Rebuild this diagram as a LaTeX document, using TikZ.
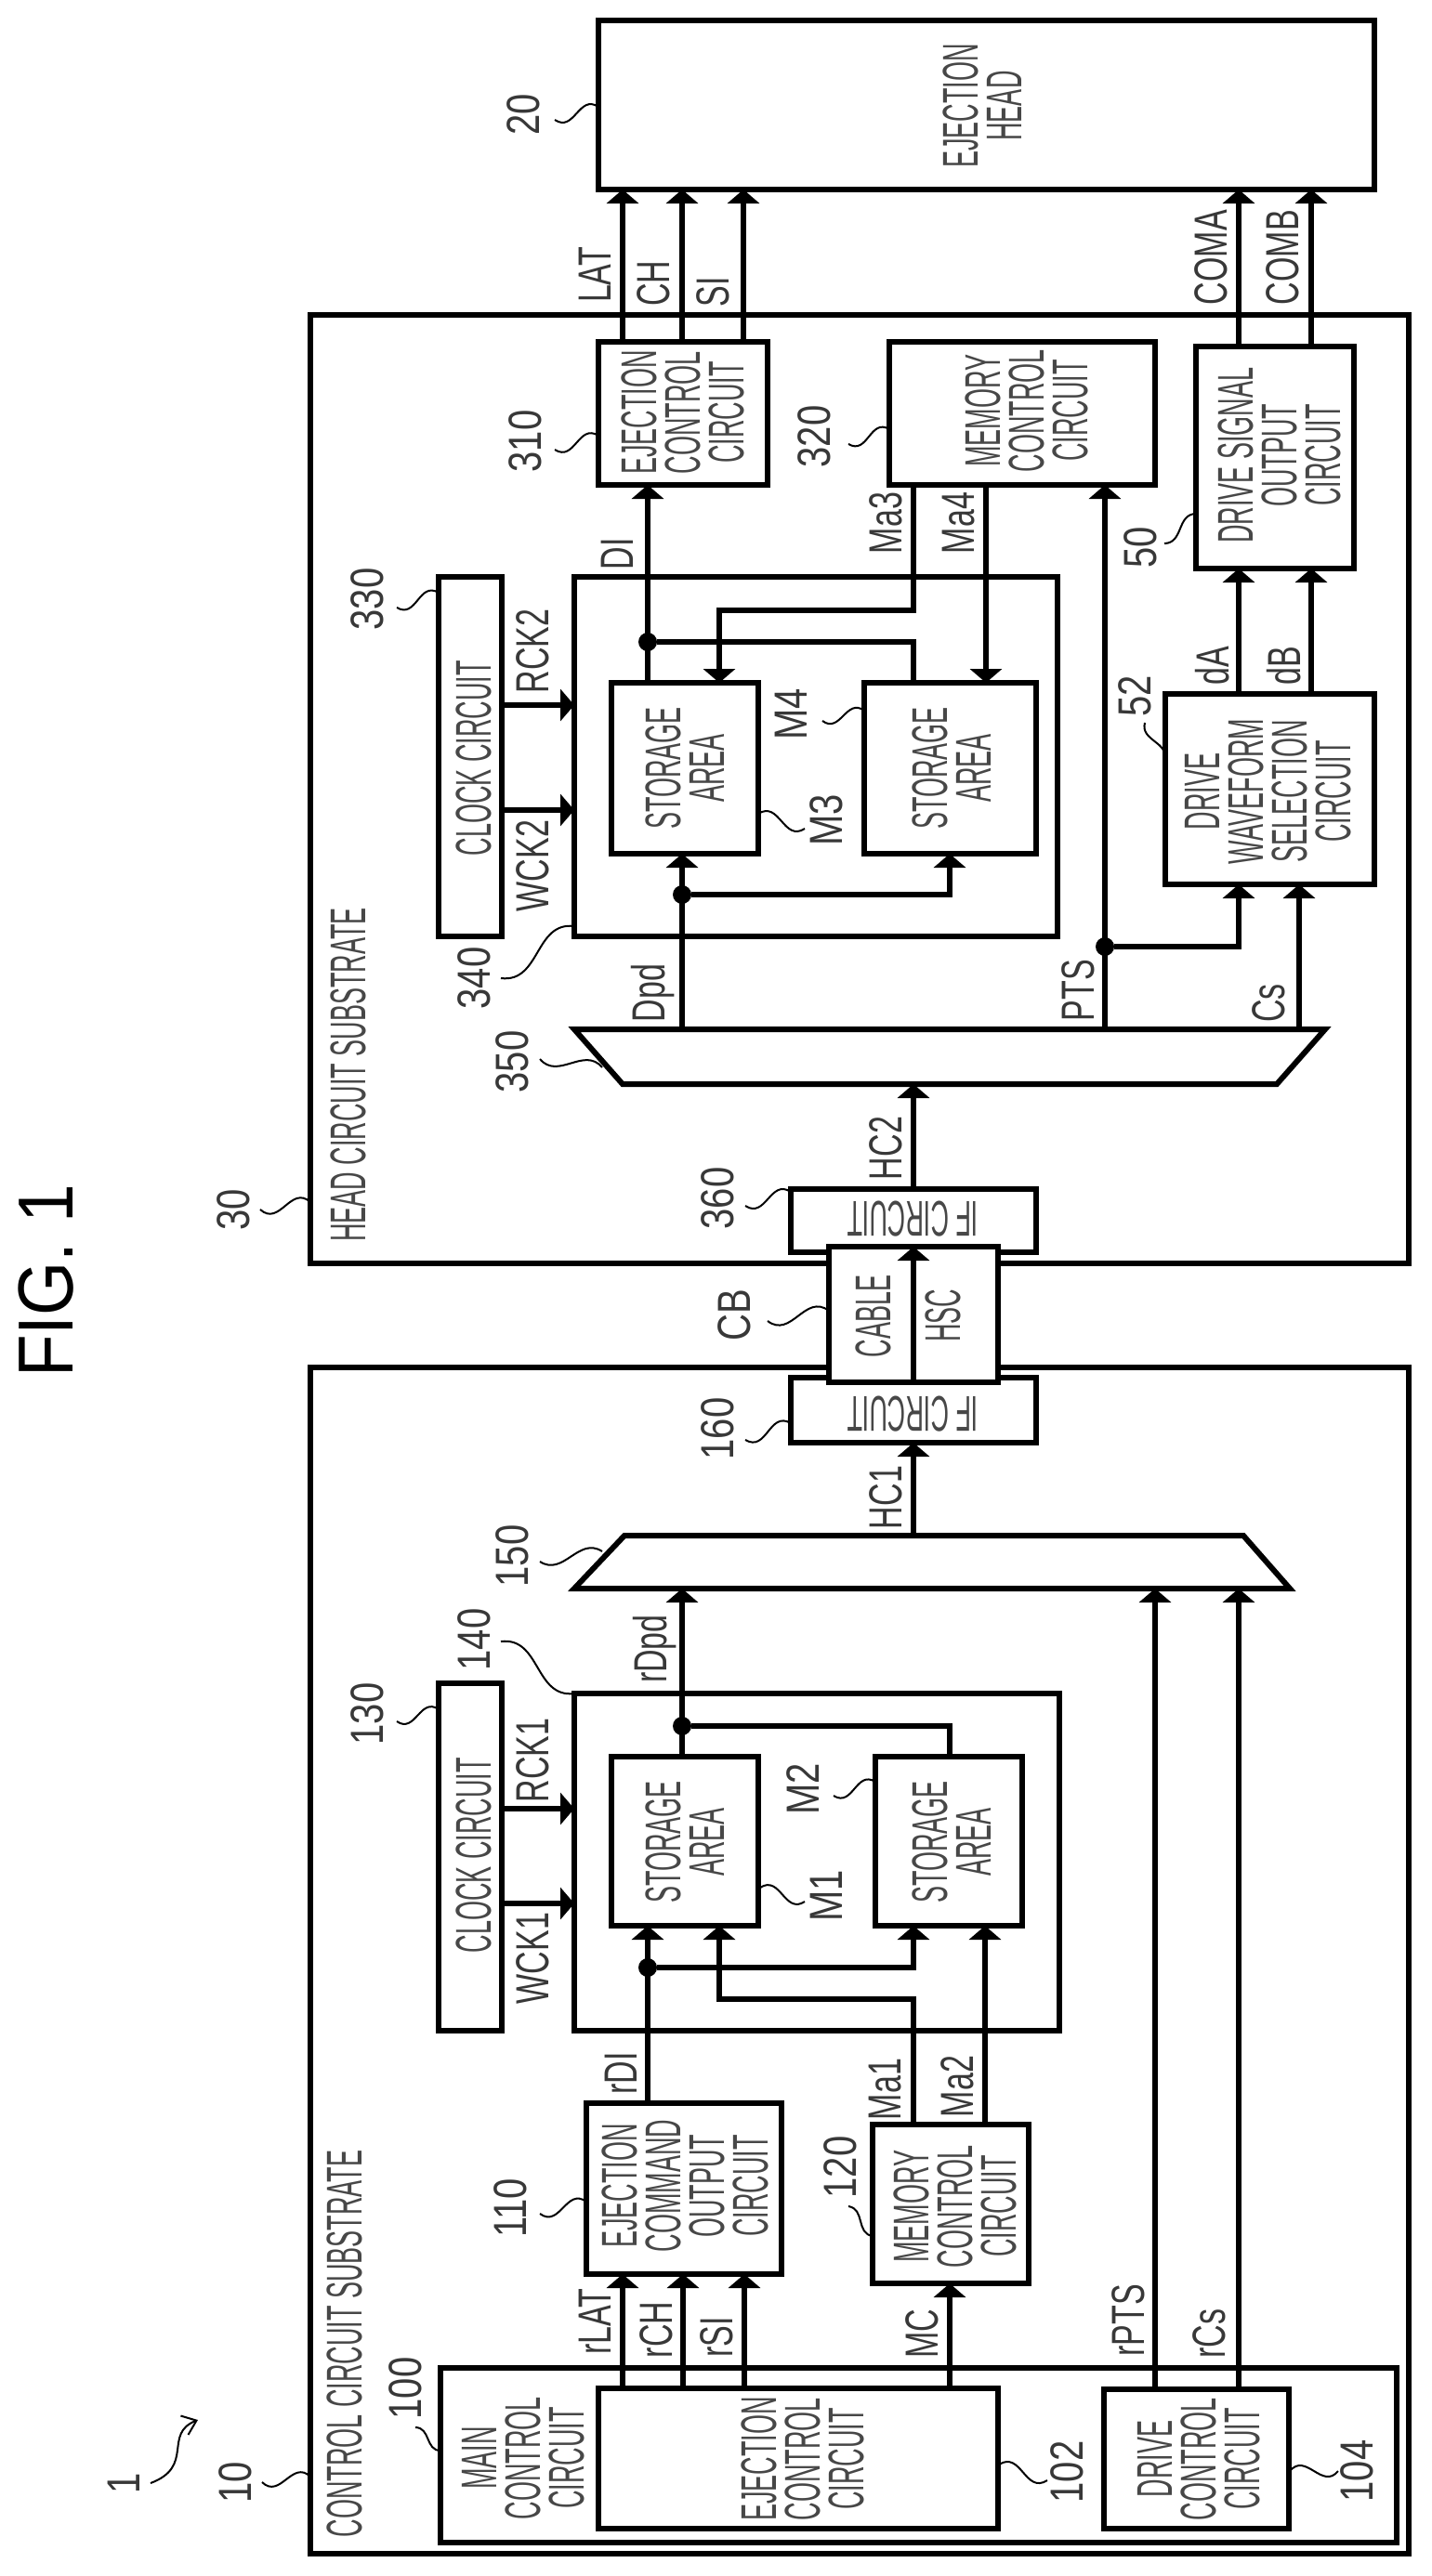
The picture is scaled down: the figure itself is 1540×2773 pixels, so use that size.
\documentclass[tikz,border=0pt]{standalone}
\usepackage{fontspec}
\usetikzlibrary{arrows.meta}
\setmainfont{Liberation Sans}
\newfontfamily\bxf[FakeStretch=0.5]{Liberation Sans}
\newfontfamily\sgf[FakeStretch=0.68]{Liberation Sans}
\newfontfamily\nmf[FakeStretch=0.8]{Liberation Sans}
\newfontfamily\fgf[FakeStretch=0.89]{Liberation Sans}
\tikzset{
  ln/.style={line width=6pt,draw=black,line join=miter},
  box/.style={ln,fill=white,inner sep=0pt,outer sep=0pt,rectangle},
  sig/.style={ln,line cap=butt},
  arr/.style={sig,-{Triangle[length=15pt,width=34pt]}},
  lead/.style={line width=2pt,draw=black},
  jdot/.style={circle,fill=black,inner sep=0pt,minimum size=20pt},
  btxt/.style={inner sep=0pt,align=center,rotate=90,text=black!72,font=\bxf\fontsize{54}{47}\selectfont},
  iftxt/.style={inner sep=0pt,rotate=180,text=black!72,font=\bxf\fontsize{54}{47}\selectfont},
  stxt/.style={inner sep=0pt,rotate=90,text=black!78,font=\sgf\fontsize{50}{50}\selectfont},
  ntxt/.style={inner sep=0pt,rotate=90,text=black!78,font=\nmf\fontsize{50}{50}\selectfont},
  ftxt/.style={inner sep=0pt,rotate=90,font=\fgf\fontsize{84}{84}\selectfont},
}
\newcommand\bx[5]{\node[box,minimum width=\dimexpr #4pt-#2pt\relax,minimum height=\dimexpr #5pt-#3pt\relax] (#1) at ({(#2+#4)/2},{(#3+#5)/2}) {};}
\newcommand\ldr[6]{%
  \pgfmathsetmacro\ldrdx{#4-#2}\pgfmathsetmacro\ldrdy{#5-#3}%
  \coordinate (#1a) at (#2,#3);\coordinate (#1b) at (#4,#5);%
  \draw[lead] (#1a) .. controls ({#2+.33*\ldrdx-#6*\ldrdy},{#3+.33*\ldrdy+#6*\ldrdx}) and ({#2+.67*\ldrdx+#6*\ldrdy},{#3+.67*\ldrdy-#6*\ldrdx}) .. (#1b);}
\begin{document}
\begin{tikzpicture}[x=1pt,y=-1pt]
\useasboundingbox (0,0) rectangle (1540,2773);
% substrates and blocks
\bx{head}{644}{22}{1479}{204}
\bx{sub30}{334}{339}{1516}{1360}
\bx{sub10}{334}{1472}{1516}{2749}
\bx{ej310}{644}{368}{826}{522}
\bx{mem320}{957}{368}{1243}{522}
\bx{drv50}{1287}{373}{1457}{612}
\bx{clk330}{472}{621}{540}{1008}
\bx{ram340}{618}{621}{1138}{1008}
\bx{m3}{658}{735}{816}{919}
\bx{m4}{930}{735}{1115}{919}
\bx{sel52}{1254}{747}{1479}{952}
\draw[ln,fill=white] (618,1108) -- (1426,1108) -- (1374,1167) -- (670,1167) -- cycle;
\coordinate (mux350t) at (982,1108);
\coordinate (mux350b) at (982,1167);
\bx{if360}{851}{1280}{1115}{1348}
\bx{if160}{851}{1483}{1115}{1553}
\bx{cable}{892}{1342}{1074}{1488}
\draw[ln,fill=white] (672,1653) -- (1338,1653) -- (1388,1710) -- (618,1710) -- cycle;
\coordinate (mux150t) at (982,1653);
\coordinate (mux150b) at (982,1710);
\bx{clk130}{472}{1812}{540}{2186}
\bx{ram140}{618}{1823}{1140}{2186}
\bx{m1}{658}{1891}{816}{2073}
\bx{m2}{942}{1891}{1100}{2073}
\bx{ej110}{631}{2264}{841}{2448}
\bx{mem120}{939}{2287}{1107}{2458}
\bx{main100}{474}{2549}{1503}{2737}
\bx{ej102}{644}{2571}{1074}{2722}
\bx{drv104}{1188}{2572}{1387}{2722}
% head-side connectors
\draw[arr] (670,0 |- ej310.north) -- (670,0 |- head.south);
\draw[arr] (734,0 |- ej310.north) -- (734,0 |- head.south);
\draw[arr] (800,0 |- ej310.north) -- (800,0 |- head.south);
\draw[arr] (1333,0 |- drv50.north) -- (1333,0 |- head.south);
\draw[arr] (1411,0 |- drv50.north) -- (1411,0 |- head.south);
\draw[arr] (697,0 |- m3.north) -- (697,0 |- ej310.south);
\node[jdot] (j1) at (697,691) {};
\coordinate (j1r) at (983,691);
\draw[sig] (j1) -- (j1r) -- (983,0 |- m4.north);
\coordinate (ma3a) at (983,657);
\coordinate (ma3b) at (774,657);
\draw[arr] (983,0 |- mem320.south) -- (ma3a) -- (ma3b) -- (774,0 |- m3.north);
\draw[arr] (1061,0 |- mem320.south) -- (1061,0 |- m4.north);
\draw[arr] (1189,0 |- mux350t) -- (1189,0 |- mem320.south);
\node[jdot] (j2) at (1189,1019) {};
\coordinate (j2r) at (1333,1019);
\draw[arr] (j2) -- (j2r) -- (1333,0 |- sel52.south);
\draw[arr] (1398,0 |- mux350t) -- (1398,0 |- sel52.south);
\draw[arr] (1333,0 |- sel52.north) -- (1333,0 |- drv50.south);
\draw[arr] (1411,0 |- sel52.north) -- (1411,0 |- drv50.south);
\draw[arr] (clk330.east |- 0,759) -- (ram340.west |- 0,759);
\draw[arr] (clk330.east |- 0,872) -- (ram340.west |- 0,872);
\draw[arr] (734,0 |- mux350t) -- (734,0 |- m3.south);
\node[jdot] (j3) at (734,963) {};
\coordinate (j3r) at (1022,963);
\draw[arr] (j3) -- (j3r) -- (1022,0 |- m4.south);
\draw[arr] (983,0 |- if360.north) -- (983,0 |- mux350b);
\draw[arr] (983,0 |- cable.south) -- (983,0 |- cable.north);
% control-side connectors
\draw[arr] (983,0 |- mux150t) -- (983,0 |- if160.south);
\draw[arr] (734,0 |- m1.north) -- (734,0 |- mux150b);
\node[jdot] (j4) at (734,1858) {};
\coordinate (j4r) at (1022,1858);
\draw[sig] (j4) -- (j4r) -- (1022,0 |- m2.north);
\draw[arr] (clk130.east |- 0,1947) -- (ram140.west |- 0,1947);
\draw[arr] (clk130.east |- 0,2049) -- (ram140.west |- 0,2049);
\draw[arr] (1243,0 |- drv104.north) -- (1243,0 |- mux150b);
\draw[arr] (1333,0 |- drv104.north) -- (1333,0 |- mux150b);
\draw[arr] (670,0 |- ej102.north) -- (670,0 |- ej110.south);
\draw[arr] (735,0 |- ej102.north) -- (735,0 |- ej110.south);
\draw[arr] (801,0 |- ej102.north) -- (801,0 |- ej110.south);
\draw[arr] (1022,0 |- ej102.north) -- (1022,0 |- mem120.south);
\draw[arr] (697,0 |- ej110.north) -- (697,0 |- m1.south);
\node[jdot] (j5) at (697,2118) {};
\coordinate (j5r) at (983,2118);
\draw[arr] (j5) -- (j5r) -- (983,0 |- m2.south);
\coordinate (ma1a) at (983,2152);
\coordinate (ma1b) at (774,2152);
\draw[arr] (983,0 |- mem120.north) -- (ma1a) -- (ma1b) -- (774,0 |- m1.south);
\draw[arr] (1060,0 |- mem120.north) -- (1060,0 |- m2.south);
% block texts
\node[ftxt] (fig) at (50,1379) {FIG. 1};
\node[btxt] (theadtxt) at (1057,114) {EJECTION\\HEAD};
\node[btxt] (t310) at (735,444) {EJECTION\\CONTROL\\CIRCUIT};
\node[btxt] (t320) at (1105,442) {MEMORY\\CONTROL\\CIRCUIT};
\node[btxt] (t50) at (1377,490) {DRIVE SIGNAL\\OUTPUT\\CIRCUIT};
\node[btxt] (t330) at (510,816) {CLOCK CIRCUIT};
\node[btxt] (tm3) at (737,827) {STORAGE\\AREA};
\node[btxt] (tm4) at (1024,827) {STORAGE\\AREA};
\node[btxt] (t52) at (1365,852) {DRIVE\\WAVEFORM\\SELECTION\\CIRCUIT};
\node[btxt] (t30) at (375,1157) {HEAD CIRCUIT SUBSTRATE};
\node[iftxt] (t360) at (982,1312) {IF CIRCUIT};
\node[iftxt] (t160) at (982,1522) {IF CIRCUIT};
\node[btxt] (tcable) at (940,1417) {CABLE};
\node[btxt] (thsc) at (1015,1416) {HSC};
\node[btxt] (t130) at (510,1997) {CLOCK CIRCUIT};
\node[btxt] (tm1) at (737,1983) {STORAGE\\AREA};
\node[btxt] (tm2) at (1024,1983) {STORAGE\\AREA};
\node[btxt] (t110) at (737,2353) {EJECTION\\COMMAND\\OUTPUT\\CIRCUIT};
\node[btxt] (t120) at (1028,2375) {MEMORY\\CONTROL\\CIRCUIT};
\node[btxt] (t100) at (563,2646) {MAIN\\CONTROL\\CIRCUIT};
\node[btxt] (t102) at (864,2647) {EJECTION\\CONTROL\\CIRCUIT};
\node[btxt] (t104) at (1290,2647) {DRIVE\\CONTROL\\CIRCUIT};
\node[btxt] (t10) at (371,2523) {CONTROL CIRCUIT SUBSTRATE};
% signal labels
\node[stxt] (sLAT) at (640,296) {LAT};
\node[stxt] (sCH) at (703,305) {CH};
\node[stxt] (sSI) at (767,314) {SI};
\node[stxt] (sCOMA) at (1303,277) {COMA};
\node[stxt] (sCOMB) at (1380,277) {COMB};
\node[stxt] (sDI) at (664,596) {DI};
\node[stxt] (sMa3) at (953,563) {Ma3};
\node[stxt] (sMa4) at (1032,563) {Ma4};
\node[stxt] (sRCK2) at (573,701) {RCK2};
\node[stxt] (sWCK2) at (573,932) {WCK2};
\node[stxt] (sdA) at (1305,717) {dA};
\node[stxt] (sdB) at (1382,717) {dB};
\node[stxt] (sDpd) at (703,1069) {Dpd};
\node[stxt] (sPTS) at (1160,1066) {PTS};
\node[stxt] (sCs) at (1365,1080) {Cs};
\node[stxt] (sHC2) at (953,1236) {HC2};
\node[stxt] (sHC1) at (953,1612) {HC1};
\node[stxt] (srDpd) at (705,1775) {rDpd};
\node[stxt] (sRCK1) at (573,1895) {RCK1};
\node[stxt] (sWCK1) at (573,2108) {WCK1};
\node[stxt] (srDI) at (668,2232) {rDI};
\node[stxt] (sMa1) at (953,2249) {Ma1};
\node[stxt] (sMa2) at (1030,2246) {Ma2};
\node[stxt] (srLAT) at (640,2499) {rLAT};
\node[stxt] (srCH) at (706,2508) {rCH};
\node[stxt] (srSI) at (771,2516) {rSI};
\node[stxt] (sMC) at (992,2512) {MC};
\node[stxt] (srPTS) at (1214,2498) {rPTS};
\node[stxt] (srCs) at (1301,2512) {rCs};
% reference numbers
\node[ntxt] (n20) at (563,123) {20};
\node[ntxt] (n310) at (565,475) {310};
\node[ntxt] (n320) at (876,470) {320};
\node[ntxt] (n50) at (1227,589) {50};
\node[ntxt] (n330) at (395,645) {330};
\node[ntxt] (n52) at (1221,749) {52};
\node[ntxt] (nM4) at (851,769) {M4};
\node[ntxt] (nM3) at (889,883) {M3};
\node[ntxt] (n340) at (510,1053) {340};
\node[ntxt] (n350) at (551,1143) {350};
\node[ntxt] (n360) at (772,1290) {360};
\node[ntxt] (n30) at (251,1302) {30};
\node[ntxt] (nCB) at (790,1416) {CB};
\node[ntxt] (n160) at (772,1538) {160};
\node[ntxt] (n150) at (551,1675) {150};
\node[ntxt] (n140) at (510,1765) {140};
\node[ntxt] (n130) at (395,1845) {130};
\node[ntxt] (nM2) at (864,1926) {M2};
\node[ntxt] (nM1) at (889,2041) {M1};
\node[ntxt] (n110) at (549,2377) {110};
\node[ntxt] (n120) at (904,2333) {120};
\node[ntxt] (n100) at (436,2571) {100};
\node[ntxt] (n102) at (1148,2661) {102};
\node[ntxt] (n104) at (1460,2660) {104};
\node[ntxt] (n10) at (253,2672) {10};
\node[ntxt] (n1) at (133,2673) {1};
% leaders
\ldr{l20}{597}{129}{644}{115}{.4}
\ldr{l310}{597}{484}{644}{469}{.4}
\ldr{l320}{913}{478}{957}{462}{.4}
\ldr{l50}{1253}{585}{1287}{553}{.3}
\ldr{l330}{427}{654}{472}{638}{.4}
\ldr{l52}{1232}{778}{1253}{818}{.3}
\ldr{lM4}{885}{776}{930}{765}{.4}
\ldr{lM3}{816}{876}{866}{892}{-.4}
\ldr{l340}{539}{1053}{618}{997}{.3}
\ldr{l350}{581}{1140}{648}{1149}{.3}
\ldr{l360}{802}{1298}{851}{1283}{.4}
\ldr{l30}{280}{1302}{334}{1294}{.4}
\ldr{lCB}{826}{1422}{892}{1411}{.35}
\ldr{l160}{802}{1550}{851}{1532}{.4}
\ldr{l150}{581}{1681}{648}{1670}{.3}
\ldr{l140}{539}{1767}{618}{1823}{-.3}
\ldr{l130}{427}{1853}{472}{1840}{.4}
\ldr{lM2}{897}{1933}{942}{1918}{.4}
\ldr{lM1}{818}{2032}{866}{2047}{-.4}
\ldr{l110}{581}{2383}{631}{2370}{.4}
\ldr{l120}{913}{2375}{939}{2407}{-.3}
\ldr{l100}{447}{2613}{474}{2638}{-.3}
\ldr{l102}{1075}{2653}{1127}{2670}{-.4}
\ldr{l104}{1388}{2660}{1440}{2660}{-.4}
\ldr{l10}{282}{2672}{334}{2666}{.4}
\coordinate (a1s) at (162,2673);
\coordinate (a1e) at (213,2605);
\draw[lead,-{Straight Barb[length=14pt,width=22pt]}] (a1s) .. controls (210,2655) and (175,2620) .. (a1e);
\end{tikzpicture}
\end{document}
